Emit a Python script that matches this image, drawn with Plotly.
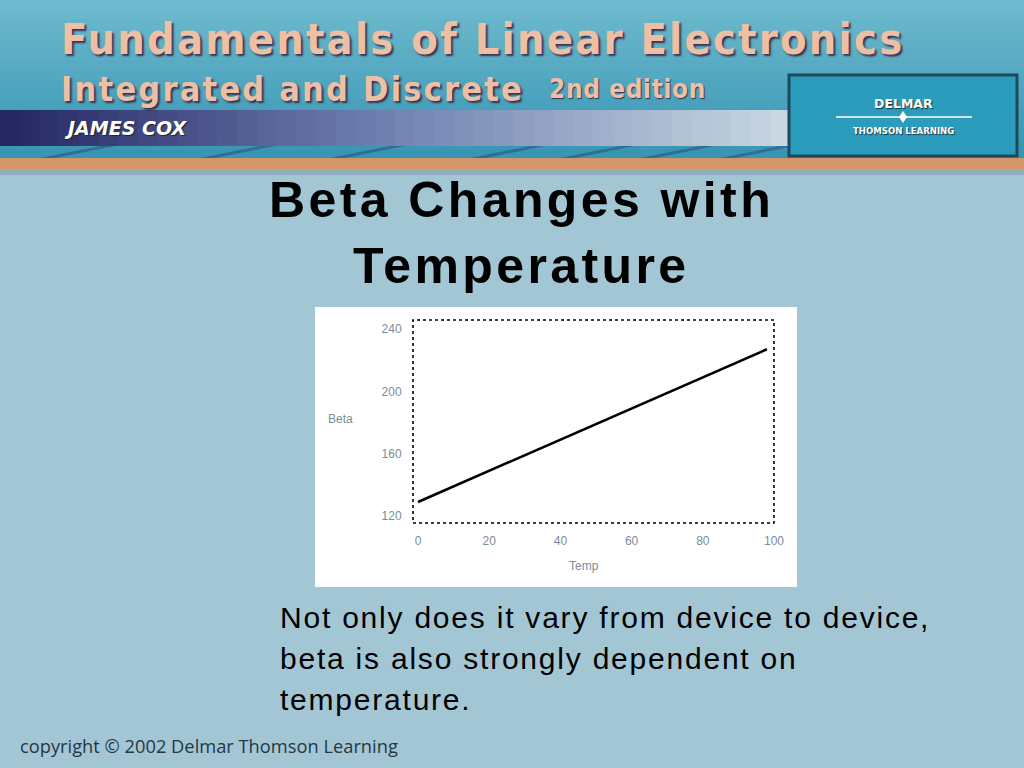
import plotly.graph_objects as go

# ---- data ----
temp = [0, 20, 40, 60, 80, 98]
beta = [129, 149, 169, 189, 209, 227]
x_ticks = [0, 20, 40, 60, 80, 100]
y_ticks = [120, 160, 200, 240]

W, H = 1024, 768


def px(x):
    return x / W


def py(y):
    return 1 - y / H


def lerp(c1, c2, t):
    t = max(0.0, min(1.0, t))
    return "rgb(%d,%d,%d)" % tuple(int(a + (b - a) * t) for a, b in zip(c1, c2))


shapes = []
# slide background
shapes.append(dict(type="rect", xref="paper", yref="paper", x0=0, x1=1, y0=0, y1=1,
                   fillcolor="#a3c6d5", line_width=0, layer="below"))
# header teal gradient
top_c, bot_c = (110, 185, 205), (55, 150, 180)
n = 16
for i in range(n):
    y0 = 158 * i / n
    y1 = 158 * (i + 1) / n + 0.5
    shapes.append(dict(type="rect", xref="paper", yref="paper", x0=0, x1=1,
                       y0=py(y1), y1=py(y0), fillcolor=lerp(top_c, bot_c, i / (n - 1)),
                       line_width=0, layer="below"))
# subtle diagonal stripes in lower header
for xs in [40, 200, 330, 470, 560, 640, 720]:
    shapes.append(dict(type="path", xref="paper", yref="paper",
                       path="M %f %f L %f %f L %f %f L %f %f Z" % (
                           px(xs), py(158), px(xs + 60), py(146),
                           px(xs + 75), py(146), px(xs + 15), py(158)),
                       fillcolor="rgba(40,60,110,0.45)", line_width=0, layer="below"))
# navy band gradient
c_left, c_mid, c_right = (38, 40, 100), (115, 130, 178), (200, 215, 225)
m = 40
for i in range(m):
    x0 = 790 * i / m
    x1 = 790 * (i + 1) / m + 0.5
    t = i / (m - 1)
    col = lerp(c_left, c_mid, t / 0.5) if t < 0.5 else lerp(c_mid, c_right, (t - 0.5) / 0.5)
    shapes.append(dict(type="rect", xref="paper", yref="paper", x0=px(x0), x1=px(x1),
                       y0=py(146), y1=py(110), fillcolor=col, line_width=0, layer="below"))
# right logo box
shapes.append(dict(type="rect", xref="paper", yref="paper", x0=px(789), x1=px(1017),
                   y0=py(156), y1=py(75), fillcolor="#2b9cbc",
                   line=dict(color="#1d4a5a", width=3), layer="below"))
shapes.append(dict(type="line", xref="paper", yref="paper", x0=px(836), x1=px(972),
                   y0=py(117), y1=py(117), line=dict(color="white", width=1.5), layer="below"))
shapes.append(dict(type="path", xref="paper", yref="paper",
                   path="M %f %f L %f %f L %f %f L %f %f Z" % (
                       px(903), py(111), px(907), py(117), px(903), py(123), px(899), py(117)),
                   fillcolor="white", line_width=0, layer="below"))
# orange bar
shapes.append(dict(type="rect", xref="paper", yref="paper", x0=0, x1=1,
                   y0=py(169), y1=py(158), fillcolor="#d4956b", line_width=0, layer="below"))
shapes.append(dict(type="rect", xref="paper", yref="paper", x0=0, x1=1,
                   y0=py(175), y1=py(169), fillcolor="#8eaebb", line_width=0, layer="below"))
# white chart panel
shapes.append(dict(type="rect", xref="paper", yref="paper", x0=px(315), x1=px(797),
                   y0=py(587), y1=py(307), fillcolor="white", line_width=0, layer="below"))
# dotted plot frame
shapes.append(dict(type="rect", xref="x domain", yref="y domain", x0=0, x1=1, y0=0, y1=1,
                   line=dict(color="black", width=1.6, dash="dot"), layer="above"))

fig = go.Figure()
fig.add_trace(go.Scatter(x=temp, y=beta, mode="lines",
                         line=dict(color="black", width=2.6), hoverinfo="skip",
                         showlegend=False))

tick_font = dict(family="Liberation Sans, Arial, sans-serif", size=12, color="#7a8d9a")

fig.update_xaxes(domain=[px(413), px(774)], range=[-1.4, 100], tickvals=x_ticks,
                 showgrid=False, zeroline=False, showline=False, automargin=False,
                 ticks="outside", ticklen=7, tickcolor="rgba(0,0,0,0)",
                 tickfont=tick_font)
fig.update_yaxes(domain=[py(523), py(320)], range=[115.5, 245.8], tickvals=y_ticks,
                 showgrid=False, zeroline=False, showline=False, automargin=False,
                 ticks="outside", ticklen=8, tickcolor="rgba(0,0,0,0)",
                 tickfont=tick_font)

ann = []


def text(x, y, s, size, color, family, xanchor="center", bold=False, italic=False,
         shadow=None, spacing=None):
    f = dict(size=size, color=color, family=family)
    if bold:
        f["weight"] = "bold"
    if italic:
        f["style"] = "italic"
    if shadow:
        f["shadow"] = shadow
    if spacing is not None:
        s = '<span style="letter-spacing:%.2fpx">%s</span>' % (spacing, s)
    ann.append(dict(x=px(x), y=py(y), xref="paper", yref="paper", text=s, showarrow=False,
                    xanchor=xanchor, yanchor="middle", font=f))


cond = "DejaVu Sans Condensed, DejaVu Sans, sans-serif"
text(59, 39, "Fundamentals of Linear Electronics", 43, "#edc0a6", cond, "left", True,
     shadow="2px 2px 2px #3a3050", spacing=2.2)
text(59, 89, "Integrated and Discrete", 34, "#edc0a6", cond, "left", True,
     shadow="2px 2px 2px #3a3050", spacing=2.2)
text(547, 89, "2nd edition", 26, "#edc0a6", cond, "left", True, shadow="1px 1px 1px #3a3050",
     spacing=0.6)
text(62, 128, "JAMES COX", 19, "white", "DejaVu Sans, sans-serif", "left", True, True,
     shadow="1px 1px 1px #222")
text(903, 103, "DELMAR", 12.5, "white", "DejaVu Sans, sans-serif", bold=True,
     shadow="1px 1px 1px #234")
text(903, 131, "THOMSON LEARNING", 9.5, "white", "DejaVu Sans Condensed, sans-serif", bold=True,
     shadow="1px 1px 1px #234")

title_font = "Liberation Sans, Arial, sans-serif"
text(521, 200, "Beta Changes with", 50, "black", title_font, bold=True, spacing=3.4)
text(521, 266, "Temperature", 50, "black", title_font, bold=True, spacing=3.4)

text(340, 419, "Beta", 12, "#7a8d9a", title_font)
text(584, 566, "Temp", 12, "#7a8d9a", title_font)

body = ["Not only does it vary from device to device,",
        "beta is also strongly dependent on",
        "temperature."]
for i, line in enumerate(body):
    text(278, 617 + 41 * i, line, 30, "black", title_font, "left", spacing=1.78)

text(18, 745, "copyright \u00a9 2002 Delmar Thomson Learning", 18.3, "#263644",
     "Open Sans, Noto Sans, sans-serif", "left")

fig.update_layout(width=W, height=H, margin=dict(l=0, r=0, t=0, b=0, autoexpand=False),
                  paper_bgcolor="#a3c6d5", plot_bgcolor="rgba(0,0,0,0)",
                  shapes=shapes, annotations=ann, showlegend=False)

post = """
document.documentElement.style.overflow='hidden';
document.body.style.margin='0';
document.body.style.overflow='hidden';
"""

fig.write_html("out.html", config={"displayModeBar": False}, post_script=post)
